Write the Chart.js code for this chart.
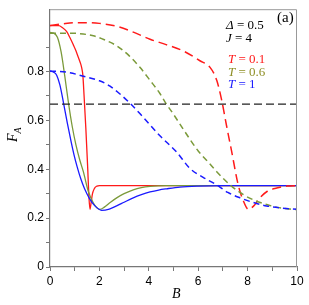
<!DOCTYPE html>
<html>
<head>
<meta charset="UTF-8">
<title>F_A vs B</title>
<script src="https://cdn.jsdelivr.net/npm/chart.js"></script>
<style>
    body { margin: 0; background: #fff; }
    #wrap { width: 309px; height: 305px; }
</style>
</head>
<body>
<div id="wrap"><canvas id="myChart" width="309" height="305"></canvas></div>
<script>
// T = 0.1 solid
const bRedSolid = [0, 0.35, 0.5, 0.67, 0.8, 0.94, 1.05, 1.15, 1.22, 1.28, 1.33, 1.38, 1.45, 1.52, 1.58, 1.62, 1.66, 1.72, 1.8, 1.9, 2.0, 2.5, 10];
const fRedSolid = [0.988, 0.988, 0.98, 0.964, 0.94, 0.91, 0.885, 0.857, 0.838, 0.817, 0.785, 0.70, 0.57, 0.42, 0.28, 0.236, 0.26, 0.30, 0.322, 0.331, 0.333, 0.333, 0.333];
// T = 0.6 solid
const bGreenSolid = [0, 0.15, 0.3, 0.45, 0.6, 0.75, 0.9, 1.05, 1.2, 1.35, 1.55, 1.75, 1.9, 2.02, 2.2, 2.45, 2.7, 3.0, 3.37, 3.7, 4.05, 4.7, 10];
const fGreenSolid = [0.96, 0.957, 0.94, 0.88, 0.78, 0.67, 0.575, 0.5, 0.44, 0.39, 0.31, 0.263, 0.242, 0.236, 0.245, 0.265, 0.283, 0.3, 0.316, 0.325, 0.33, 0.333, 0.333];
// T = 1 solid
const bBlueSolid = [0, 0.15, 0.27, 0.4, 0.55, 0.7, 0.85, 0.97, 1.1, 1.25, 1.4, 1.6, 1.8, 2.09, 2.4, 2.7, 3.0, 3.37, 3.7, 4.05, 4.4, 4.72, 5.26, 6.0, 7.0, 10];
const fBlueSolid = [0.802, 0.797, 0.785, 0.745, 0.67, 0.59, 0.515, 0.46, 0.41, 0.36, 0.32, 0.28, 0.252, 0.232, 0.237, 0.25, 0.265, 0.283, 0.296, 0.307, 0.315, 0.32, 0.327, 0.331, 0.333, 0.333];
// T = 0.1 dashed
const bRedDash = [0, 0.5, 1.0, 1.42, 2.0, 2.7, 3.4, 4.05, 4.7, 5.4, 6.07, 6.48, 6.75, 6.95, 7.15, 7.35, 7.62, 7.83, 8.03, 8.25, 8.5, 8.8, 9.18, 9.6, 10];
const fRedDash = [0.988, 0.995, 1.0, 1.0, 0.997, 0.985, 0.96, 0.932, 0.91, 0.884, 0.844, 0.817, 0.764, 0.683, 0.577, 0.475, 0.336, 0.27, 0.236, 0.25, 0.283, 0.31, 0.323, 0.331, 0.333];
// T = 0.6 dashed
const bGreenDash = [0, 0.6, 1.2, 1.8, 2.2, 2.7, 3.2, 3.64, 4.05, 4.45, 4.66, 5.0, 5.4, 6.0, 6.4, 6.75, 7.29, 7.83, 8.3, 8.77, 9.2, 9.72, 10];
const fGreenDash = [0.957, 0.957, 0.955, 0.945, 0.93, 0.905, 0.865, 0.817, 0.764, 0.71, 0.675, 0.625, 0.563, 0.475, 0.43, 0.39, 0.336, 0.296, 0.272, 0.256, 0.244, 0.237, 0.235];
// T = 1 dashed
const bBlueDash = [0, 0.7, 1.48, 2.0, 2.43, 3.24, 3.8, 4.45, 5.13, 5.67, 6.2, 6.75, 7.2, 7.69, 8.2, 8.77, 9.4, 10];
const fBlueDash = [0.802, 0.797, 0.777, 0.762, 0.74, 0.67, 0.61, 0.537, 0.47, 0.403, 0.367, 0.336, 0.305, 0.283, 0.265, 0.25, 0.241, 0.236];
// linea de referencia F = 2/3
const bRef = [0, 10];
const fRef = [0.6667, 0.6667];

const yTickLabels = ['0', '0.2', '0.4', '0.6', '0.8', '1'];
const xTickLabels = ['0', '2', '4', '6', '8', '10'];

const RED = '#ff1a1a', GREEN = '#7b9a3a', BLUE = '#1a1aff', OLIVE = '#8f8f26';

function pts(bs, fs) {
    return bs.map((b, i) => ({ x: b, y: fs[i] }));
}

function serie(bs, fs, color, dash, width) {
    return {
        data: pts(bs, fs),
        borderColor: color,
        borderWidth: width,
        borderDash: dash,
        pointRadius: 0,
        fill: false,
        cubicInterpolationMode: 'monotone'
    };
}

// marco y textos
const extras = {
    id: 'extras',
    afterDatasetsDraw(chart) {
        const ctx = chart.ctx;
        const a = chart.chartArea;
        ctx.save();
        ctx.strokeStyle = '#999';
        ctx.lineWidth = 1;
        ctx.beginPath();
        ctx.moveTo(a.left, a.top + 0.5);
        ctx.lineTo(a.right - 0.5, a.top + 0.5);
        ctx.lineTo(a.right - 0.5, a.bottom);
        ctx.stroke();

        function segs(x, y, parts) {
            ctx.textBaseline = 'alphabetic';
            ctx.textAlign = 'left';
            parts.forEach(p => {
                ctx.font = p[1];
                ctx.fillStyle = p[2];
                ctx.fillText(p[0], x, y);
                x += ctx.measureText(p[0]).width;
            });
        }
        const it = 'italic 13px "Liberation Serif"';
        const rg = '13px "Liberation Serif"';
        segs(277, 22, [['(a)', '15px "Liberation Serif"', '#000']]);
        segs(226, 29, [['\u0394', it, '#000'], [' = 0.5', rg, '#000']]);
        segs(226, 42, [['J', it, '#000'], [' = 4', rg, '#000']]);
        segs(228, 63, [['T', it, RED], [' = 0.1', rg, RED]]);
        segs(228, 76, [['T', it, OLIVE], [' = 0.6', rg, OLIVE]]);
        segs(228, 88, [['T', it, BLUE], [' = 1', rg, BLUE]]);

        // titulo eje x
        segs(172, 298, [['B', 'italic 14px "Liberation Serif"', '#000']]);

        // titulo eje y: F con subindice A, girado
        ctx.translate(17, 142);
        ctx.rotate(-Math.PI / 2);
        ctx.font = 'italic 14px "Liberation Serif"';
        ctx.fillStyle = '#000';
        ctx.fillText('F', 0, 0);
        const w = ctx.measureText('F').width;
        ctx.font = 'italic 10px "Liberation Serif"';
        ctx.fillText('A', w, 4);
        ctx.restore();
    }
};

function dibujar() {
    const ctx = document.getElementById('myChart').getContext('2d');
    new Chart(ctx, {
        type: 'line',
        data: {
            datasets: [
                serie(bRef, fRef, '#222', [8, 4], 1.3),
                serie(bBlueDash, fBlueDash, BLUE, [6, 4], 1.5),
                serie(bGreenDash, fGreenDash, GREEN, [6, 4], 1.5),
                serie(bRedDash, fRedDash, RED, [9, 5], 1.5),
                serie(bBlueSolid, fBlueSolid, BLUE, [], 1.3),
                serie(bGreenSolid, fGreenSolid, GREEN, [], 1.3),
                serie(bRedSolid, fRedSolid, RED, [], 1.3)
            ]
        },
        options: {
            responsive: false,
            animation: false,
            events: [],
            layout: { padding: { top: 4, right: 12, left: 0, bottom: 0 } },
            plugins: { legend: { display: false }, tooltip: { enabled: false } },
            scales: {
                x: {
                    type: 'linear',
                    min: 0,
                    max: 10,
                    afterFit: s => { s.height = 38; },
                    border: { color: '#777', width: 1.2 },
                    grid: { drawOnChartArea: false, tickLength: 4, color: '#777' },
                    ticks: {
                        stepSize: 1,
                        padding: 3,
                        color: '#000',
                        font: { family: '"Liberation Sans"', size: 12 },
                        maxRotation: 0,
                        autoSkip: false,
                        callback: v => (v % 2 === 0 ? xTickLabels[v / 2] : '')
                    }
                },
                y: {
                    min: 0,
                    max: 1.055,
                    afterFit: s => { s.width = 50; },
                    afterBuildTicks: s => { s.ticks = s.ticks.filter(t => t.value <= 1.0001); },
                    border: { color: '#777', width: 1.2 },
                    grid: { drawOnChartArea: false, tickLength: 4, color: '#777' },
                    ticks: {
                        stepSize: 0.1,
                        padding: 2,
                        color: '#000',
                        font: { family: '"Liberation Sans"', size: 12 },
                        autoSkip: false,
                        callback: v => {
                            const k = Math.round(v * 10);
                            return k % 2 === 0 ? yTickLabels[k / 2] : '';
                        }
                    }
                }
            }
        },
        plugins: [extras]
    });
}

// esperar a las fuentes antes de dibujar
Promise.all([
    document.fonts.load('12px "Liberation Sans"'),
    document.fonts.load('13px "Liberation Serif"'),
    document.fonts.load('italic 13px "Liberation Serif"')
]).then(dibujar, dibujar);
</script>
</body>
</html>
